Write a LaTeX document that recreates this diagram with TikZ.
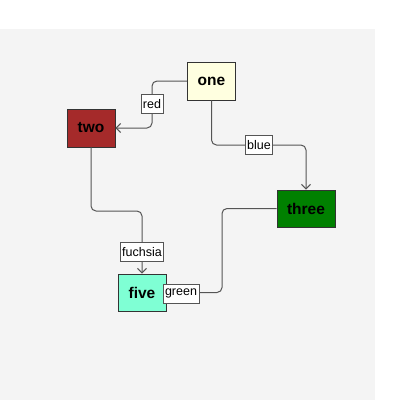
\documentclass[tikz,border=0pt]{standalone}
\usepackage{fontspec}
\setmainfont{Liberation Sans}
\usetikzlibrary{arrows.meta}
\definecolor{bg}{HTML}{F4F4F4}
\definecolor{edgec}{HTML}{555555}
\definecolor{boxc}{HTML}{333333}
\definecolor{cone}{HTML}{FFFFE0}
\definecolor{ctwo}{HTML}{A52A2A}
\definecolor{cthree}{HTML}{008000}
\definecolor{cfive}{HTML}{7FFFD4}
\tikzset{
  nodebox/.style={draw=boxc, line width=0.9pt, minimum height=38pt, minimum width=48pt, inner xsep=10pt, font=\fontsize{15.5}{18}\selectfont\bfseries, text=black},
  lbl/.style={draw=edgec, fill=white, line width=0.9pt, minimum height=19pt, inner xsep=2pt, inner ysep=0pt, font=\fontsize{12.5}{14}\selectfont},
  edge/.style={draw=edgec, line width=1pt, rounded corners=5pt, -{Straight Barb[length=4.5pt,width=9pt]}},
}
\begin{document}
\begin{tikzpicture}[x=1pt,y=-1pt]
\useasboundingbox (0,0) rectangle (400,400);
\fill[bg] (0,29) rectangle (375,400);
\node[nodebox, fill=cone] (one) at (211.5,81) {one};
\node[nodebox, fill=ctwo] (two) at (91,128) {two};
\node[nodebox, fill=cthree, minimum height=37pt] (three) at (306,208.5) {three};
\node[nodebox, fill=cfive, minimum height=37pt] (five) at (142,292.5) {five};
\coordinate (c1) at (152,104);
\coordinate (c2) at (258,145);
\coordinate (c3) at (116,211);
\coordinate (c4) at (222,250);
\draw[edge] (one.west) -| (c1) |- (two.east);
\draw[edge] (one.south) |- (c2) -| (three.north);
\draw[edge] (two.south) |- (c3) -| (five.north);
\draw[edge] (three.west) -| (c4) |- (five.east);
\node[lbl] (lred) at (c1) {red};
\node[lbl] (lblue) at (259,145) {blue};
\node[lbl] (lfuchsia) at (142,252) {fuchsia};
\node[lbl] (lgreen) at (181,293.5) {green};
\end{tikzpicture}
\end{document}
